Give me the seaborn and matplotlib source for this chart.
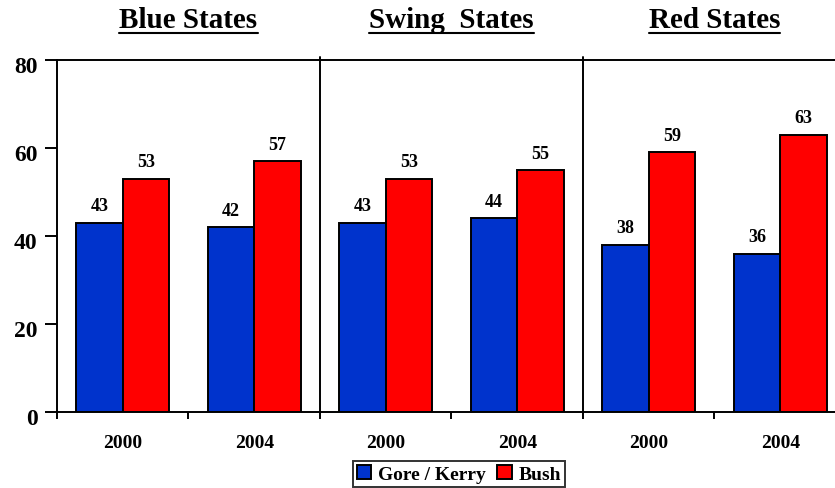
import matplotlib
matplotlib.use("Agg")
import matplotlib.pyplot as plt
import matplotlib.transforms as mtransforms
from matplotlib.lines import Line2D
import seaborn as sns
import pandas as pd

# ---- data ----
groups = ["Blue States", "Swing  States", "Red States"]
years = ["2000", "2004", "2000", "2004", "2000", "2004"]
slots = ["B2000", "B2004", "S2000", "S2004", "R2000", "R2004"]
gore_kerry = [43, 42, 43, 44, 38, 36]
bush = [53, 57, 53, 55, 59, 63]
series = ["Gore / Kerry", "Bush"]
colors = {"Gore / Kerry": "#0033CC", "Bush": "#FF0000"}
yticks = [0, 20, 40, 60, 80]

df = pd.DataFrame({
    "slot": slots * 2,
    "candidate": [series[0]] * 6 + [series[1]] * 6,
    "pct": gore_kerry + bush,
})

sns.set_style("ticks")
plt.rcParams["font.family"] = ["Liberation Serif", "DejaVu Serif"]
plt.rcParams["font.weight"] = "bold"
for k in ["text.color", "xtick.color", "ytick.color", "axes.labelcolor", "axes.edgecolor"]:
    plt.rcParams[k] = "black"

fig = plt.figure(figsize=(8.35, 4.89), dpi=100)
ax = fig.add_axes([57 / 835, 1 - 413 / 489, (835 - 57) / 835, (413 - 61) / 489])

sns.barplot(data=df, x="slot", y="pct", hue="candidate", order=slots,
            hue_order=series, palette=colors, width=0.71, gap=0,
            edgecolor="black", linewidth=1.4, saturation=1, ax=ax,
            legend=True)

ax.set_ylim(0, 80)
ax.set_xlim(-0.5, -0.5 + (835 - 57) / 131.5)
ax.set_yticks(yticks)
ax.set_xticks(range(6))
ax.set_xticklabels(years, fontsize=14, fontweight="bold")
ax.set_yticklabels([str(v) for v in yticks], fontsize=17, fontweight="bold")
ax.tick_params(axis="x", length=0, pad=16)
ax.tick_params(axis="y", length=9, width=1.4, pad=5)
shift = mtransforms.ScaledTranslation(0, -4 / 100, fig.dpi_scale_trans)
for lab in ax.get_yticklabels():
    lab.set_transform(lab.get_transform() + shift)
ax.set_xticks([-0.5, 0.5, 1.5, 2.5, 3.5, 4.5], minor=True)
ax.tick_params(axis="x", which="minor", length=5, width=1.4, direction="out")
ax.set_xlabel("")
ax.set_ylabel("")

for side in ["left", "top", "bottom"]:
    ax.spines[side].set_linewidth(1.4)
    ax.spines[side].set_color("black")
ax.spines["right"].set_visible(False)

for xv in [1.5, 3.5]:
    ax.axvline(xv, ymin=0, ymax=1.008, color="black", lw=1.4, clip_on=False)

for cont in ax.containers:
    ax.bar_label(cont, labels=[f"{int(v)}" for v in cont.datavalues],
                 padding=6, fontsize=13, fontweight="bold")

# group titles, underlined
trans = mtransforms.blended_transform_factory(ax.transData, fig.transFigure)
titles = []
for i, g in enumerate(groups):
    t = ax.text(2 * i + 0.5, 1 - 21 / 489, g, transform=trans, ha="center",
                va="center", fontsize=21, fontweight="bold")
    titles.append(t)

leg = ax.legend(loc="center", bbox_to_anchor=(459 / 835, 1 - 475 / 489),
                bbox_transform=fig.transFigure, ncol=2, frameon=True,
                fancybox=False, edgecolor="black", fontsize=14,
                handlelength=0.75, handleheight=0.75, handletextpad=0.35,
                columnspacing=0.6, borderpad=0.2, borderaxespad=0)
leg.get_frame().set_linewidth(1.4)
for txt in leg.get_texts():
    txt.set_fontweight("bold")

fig.canvas.draw()
renderer = fig.canvas.get_renderer()
for t in titles:
    bb = t.get_window_extent(renderer)
    y = bb.y0 + 1
    fig.add_artist(Line2D([bb.x0 / 835, bb.x1 / 835], [y / 489, y / 489],
                          transform=fig.transFigure, color="black", lw=1.5))

fig.savefig("out.png", dpi=100)
